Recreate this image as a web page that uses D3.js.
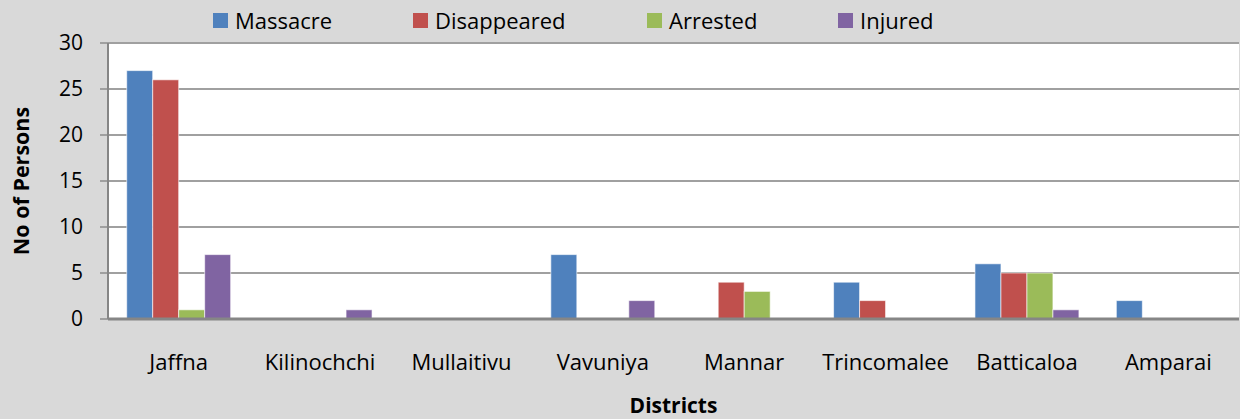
<!DOCTYPE html>
<html>
<head>
<meta charset="utf-8">
<script src="https://cdn.jsdelivr.net/npm/d3@7"></script>
<style>
  body { margin: 0; background: #d9d9d9; }
  svg { display: block; font-family: "Open Sans", sans-serif; }
</style>
</head>
<body>
<div id="chart"></div>
<script>
const districts = ['Jaffna', 'Kilinochchi', 'Mullaitivu', 'Vavuniya', 'Mannar', 'Trincomalee', 'Batticaloa', 'Amparai']
const seriesNames = ['Massacre', 'Disappeared', 'Arrested', 'Injured']
const massacre = [27, 0, 0, 7, 0, 4, 6, 2]
const disappeared = [26, 0, 0, 0, 4, 2, 5, 0]
const arrested = [1, 0, 0, 0, 3, 0, 5, 0]
const injured = [7, 1, 0, 2, 0, 0, 1, 0]
const yTicks = [0, 5, 10, 15, 20, 25, 30]
const colors = ['#4f81bd', '#c0504d', '#9bbb59', '#8064a2']

const values = [massacre, disappeared, arrested, injured]
const data = districts.map((d, i) => ({
  district: d,
  vals: seriesNames.map((s, j) => ({ key: s, value: values[j][i] }))
}))

const W = 1240, H = 419
const margin = { top: 43, right: 1, bottom: 100, left: 108 }
const width = W - margin.left - margin.right
const height = H - margin.top - margin.bottom

const svg = d3.select('#chart').append('svg')
  .attr('width', W)
  .attr('height', H)

svg.append('rect').attr('width', W).attr('height', H).attr('fill', '#d9d9d9')

const g = svg.append('g').attr('transform', `translate(${margin.left},${margin.top})`)

// plot area
g.append('rect').attr('width', width).attr('height', height).attr('fill', '#fff')

const x0 = d3.scaleBand().domain(districts).range([0, width]).padding(0)
const x1 = d3.scaleBand().domain(seriesNames).range([0, x0.bandwidth()]).paddingInner(0).paddingOuter(0.72)
const y = d3.scaleLinear().domain([0, 30]).range([height, 0])

// gridlines
g.append('g')
  .selectAll('line')
  .data(yTicks)
  .enter()
  .append('line')
  .attr('x1', -8)
  .attr('x2', width)
  .attr('y1', d => y(d))
  .attr('y2', d => y(d))
  .attr('stroke', '#a0a0a0')
  .attr('stroke-width', 2)

// y axis
const yAxis = d3.axisLeft(y).tickValues(yTicks).tickSize(0).tickPadding(25)
const yg = g.append('g').call(yAxis)
yg.select('.domain').remove()
yg.selectAll('text').attr('font-size', 21).attr('fill', '#000').attr('font-family', '"Open Sans", sans-serif')

g.append('line')
  .attr('x1', 0).attr('x2', 0)
  .attr('y1', 0).attr('y2', height)
  .attr('stroke', '#868686').attr('stroke-width', 2)

// bars
const groups = g.selectAll('.grp')
  .data(data)
  .enter()
  .append('g')
  .attr('class', 'grp')
  .attr('transform', d => `translate(${x0(d.district)},0)`)

groups.selectAll('rect')
  .data(d => d.vals.filter(v => v.value > 0))
  .enter()
  .append('rect')
  .attr('x', d => x1(d.key))
  .attr('y', d => y(d.value))
  .attr('width', x1.bandwidth())
  .attr('height', d => height - y(d.value))
  .attr('fill', (d) => colors[seriesNames.indexOf(d.key)])
  .attr('stroke', 'rgba(255,255,255,0.6)')
  .attr('stroke-width', 1)

// x axis line
g.append('line')
  .attr('x1', 0).attr('x2', width)
  .attr('y1', height).attr('y2', height)
  .attr('stroke', '#868686').attr('stroke-width', 3)

// x labels
const xAxis = d3.axisBottom(x0).tickSize(0).tickPadding(35)
const xg = g.append('g').attr('transform', `translate(0,${height})`).call(xAxis)
xg.select('.domain').remove()
xg.selectAll('text').attr('font-size', 22).attr('fill', '#000').attr('font-family', '"Open Sans", sans-serif')

// axis titles
svg.append('text')
  .attr('x', margin.left + width / 2)
  .attr('y', 413)
  .attr('text-anchor', 'middle')
  .attr('font-size', 21)
  .attr('font-weight', 'bold')
  .text('Districts')

svg.append('text')
  .attr('transform', `translate(29,181) rotate(-90)`)
  .attr('text-anchor', 'middle')
  .attr('font-size', 21.5)
  .attr('font-weight', 'bold')
  .text('No of Persons')

// legend
const legendX = [213, 413, 647, 838]
const legend = svg.append('g')
seriesNames.forEach((s, i) => {
  legend.append('rect')
    .attr('x', legendX[i]).attr('y', 13)
    .attr('width', 15).attr('height', 15)
    .attr('fill', colors[i])
  legend.append('text')
    .attr('x', legendX[i] + 22).attr('y', 29)
    .attr('font-size', 22)
    .text(s)
})
</script>
</body>
</html>
